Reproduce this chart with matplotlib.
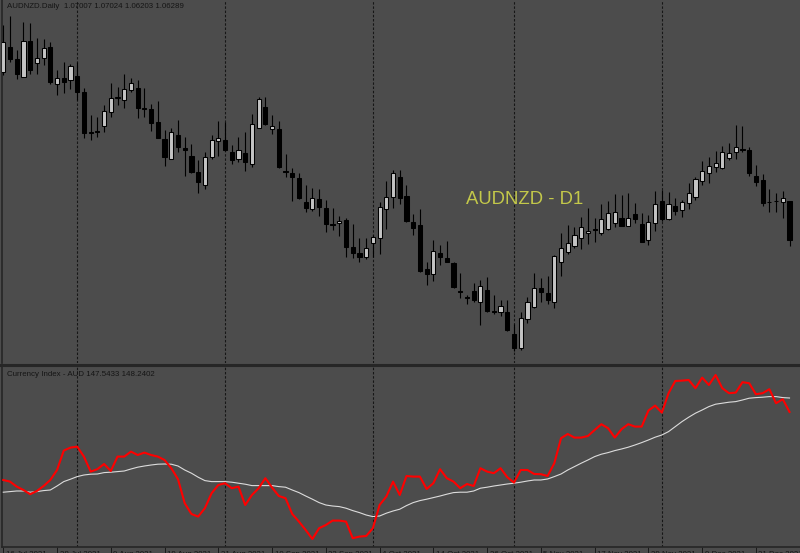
import matplotlib
matplotlib.use("Agg")
import matplotlib.pyplot as plt
from matplotlib.lines import Line2D
import numpy as np

# ---------------- data ----------------
opens = [1.0965, 1.1015, 1.0991, 1.0955, 1.1027, 1.0983, 1.0993, 1.1015, 1.0941, 1.0953,
         1.0949, 1.0957, 1.0925, 1.0845, 1.0847, 1.0857, 1.0885, 1.0913, 1.0909, 1.0929,
         1.0933, 1.0893, 1.0891, 1.0865, 1.0831, 1.0791, 1.0839, 1.0813, 1.0797, 1.0765,
         1.0739, 1.0795, 1.0827, 1.0829, 1.0805, 1.0791, 1.0803, 1.0781, 1.0853, 1.0895,
         1.0851, 1.0851, 1.0767, 1.0763, 1.0753, 1.0705, 1.0691, 1.0711, 1.0693, 1.0661,
         1.0663, 1.0669, 1.0615, 1.0603, 1.0595, 1.0623, 1.0633, 1.0691, 1.0715, 1.0755,
         1.0717, 1.0665, 1.0659, 1.0571, 1.0561, 1.0603, 1.0593, 1.0583, 1.0527, 1.0515,
         1.0527, 1.0505, 1.0529, 1.0487, 1.0485, 1.0485, 1.0441, 1.0413, 1.0471, 1.0495,
         1.0533, 1.0523, 1.0505, 1.0585, 1.0605, 1.0617, 1.0633, 1.0643, 1.0651, 1.0643,
         1.0651, 1.0663, 1.0673, 1.0657, 1.0681, 1.0661, 1.0629, 1.0663, 1.0707, 1.0671,
         1.0697, 1.0689, 1.0703, 1.0715, 1.0747, 1.0763, 1.0775, 1.0773, 1.0793, 1.0805,
         1.0811, 1.0809, 1.0757, 1.0749, 1.0705, 1.0707, 1.0705, 1.0707]
highs = [1.1059, 1.1077, 1.1009, 1.1065, 1.1063, 1.1033, 1.1031, 1.1025, 1.0969, 1.0985,
         1.0981, 1.0985, 1.0933, 1.0879, 1.0875, 1.0899, 1.0943, 1.0935, 1.0961, 1.0953,
         1.0949, 1.0933, 1.0901, 1.0907, 1.0849, 1.0853, 1.0869, 1.0835, 1.0821, 1.0789,
         1.0805, 1.0839, 1.0867, 1.0865, 1.0819, 1.0835, 1.0845, 1.0881, 1.0915, 1.0915,
         1.0879, 1.0867, 1.0801, 1.0773, 1.0763, 1.0739, 1.0733, 1.0731, 1.0709, 1.0693,
         1.0677, 1.0673, 1.0661, 1.0633, 1.0633, 1.0639, 1.0705, 1.0747, 1.0769, 1.0769,
         1.0739, 1.0681, 1.0691, 1.0585, 1.0629, 1.0619, 1.0627, 1.0585, 1.0563, 1.0519,
         1.0543, 1.0549, 1.0555, 1.0519, 1.0509, 1.0509, 1.0461, 1.0485, 1.0515, 1.0563,
         1.0553, 1.0557, 1.0599, 1.0643, 1.0659, 1.0655, 1.0675, 1.0693, 1.0673, 1.0701,
         1.0707, 1.0721, 1.0719, 1.0723, 1.0703, 1.0683, 1.0679, 1.0727, 1.0729, 1.0725,
         1.0713, 1.0709, 1.0743, 1.0755, 1.0787, 1.0795, 1.0807, 1.0817, 1.0823, 1.0859,
         1.0857, 1.0815, 1.0779, 1.0761, 1.0731, 1.0723, 1.0727, 1.0707]
lows = [1.0959, 1.0985, 1.0951, 1.0955, 1.0961, 1.0961, 1.0979, 1.0941, 1.0919, 1.0923,
        1.0931, 1.0909, 1.0833, 1.0829, 1.0835, 1.0845, 1.0875, 1.0899, 1.0893, 1.0925,
        1.0873, 1.0875, 1.0847, 1.0833, 1.0777, 1.0791, 1.0805, 1.0757, 1.0763, 1.0723,
        1.0731, 1.0791, 1.0797, 1.0807, 1.0781, 1.0785, 1.0767, 1.0775, 1.0853, 1.0859,
        1.0841, 1.0773, 1.0755, 1.0707, 1.0711, 1.0685, 1.0687, 1.0677, 1.0645, 1.0649,
        1.0637, 1.0595, 1.0593, 1.0585, 1.0591, 1.0595, 1.0601, 1.0651, 1.0693, 1.0701,
        1.0665, 1.0639, 1.0565, 1.0539, 1.0547, 1.0579, 1.0585, 1.0533, 1.0513, 1.0501,
        1.0505, 1.0459, 1.0485, 1.0481, 1.0477, 1.0447, 1.0407, 1.0409, 1.0463, 1.0493,
        1.0505, 1.0501, 1.0493, 1.0557, 1.0601, 1.0613, 1.0611, 1.0621, 1.0625, 1.0639,
        1.0649, 1.0655, 1.0657, 1.0657, 1.0663, 1.0625, 1.0619, 1.0647, 1.0667, 1.0669,
        1.0679, 1.0675, 1.0691, 1.0709, 1.0739, 1.0743, 1.0765, 1.0771, 1.0789, 1.0791,
        1.0805, 1.0757, 1.0737, 1.0697, 1.0685, 1.0685, 1.0673, 1.0617]
closes = [1.1025, 1.0991, 1.0961, 1.1027, 1.0969, 1.0993, 1.1013, 1.0945, 1.0953, 1.0945,
          1.0977, 1.0925, 1.0843, 1.0843, 1.0845, 1.0887, 1.0913, 1.0915, 1.0931, 1.0943,
          1.0893, 1.0891, 1.0863, 1.0833, 1.0795, 1.0845, 1.0815, 1.0809, 1.0765, 1.0745,
          1.0795, 1.0829, 1.0833, 1.0809, 1.0789, 1.0809, 1.0785, 1.0861, 1.0911, 1.0861,
          1.0857, 1.0775, 1.0765, 1.0755, 1.0713, 1.0693, 1.0713, 1.0695, 1.0661, 1.0659,
          1.0667, 1.0615, 1.0603, 1.0595, 1.0613, 1.0635, 1.0695, 1.0715, 1.0763, 1.0713,
          1.0667, 1.0653, 1.0567, 1.0561, 1.0607, 1.0595, 1.0585, 1.0535, 1.0525, 1.0513,
          1.0509, 1.0537, 1.0487, 1.0485, 1.0497, 1.0449, 1.0413, 1.0473, 1.0505, 1.0533,
          1.0525, 1.0509, 1.0597, 1.0613, 1.0623, 1.0639, 1.0655, 1.0647, 1.0649, 1.0671,
          1.0683, 1.0685, 1.0657, 1.0673, 1.0671, 1.0625, 1.0665, 1.0701, 1.0671, 1.0701,
          1.0687, 1.0705, 1.0723, 1.0751, 1.0767, 1.0777, 1.0783, 1.0805, 1.0803, 1.0815,
          1.0809, 1.0763, 1.0745, 1.0703, 1.0705, 1.0707, 1.0713, 1.0629]

index_aud = [144.14, 144.06, 143.81, 143.64, 143.43, 143.59, 143.84, 144.14, 144.64, 145.61,
             145.76, 145.81, 145.31, 144.56, 144.68, 144.94, 144.59, 145.31, 145.31, 145.56,
             145.39, 145.51, 145.39, 145.31, 145.14, 144.73, 144.18, 142.98, 142.44, 142.31,
             142.73, 143.48, 143.89, 143.98, 143.73, 143.81, 142.89, 143.39, 143.73, 144.23,
             143.76, 143.34, 143.23, 142.44, 142.06, 141.64, 141.19, 141.73, 141.89, 142.11,
             142.11, 142.06, 141.23, 141.31, 141.34, 141.73, 142.89, 143.31, 144.06, 143.39,
             144.34, 144.31, 144.31, 143.69, 143.98, 144.68, 144.23, 144.06, 143.73, 143.94,
             143.84, 144.73, 144.56, 144.48, 144.73, 144.28, 144.01, 144.64, 144.64, 144.44,
             144.43, 144.34, 144.98, 146.23, 146.44, 146.26, 146.26, 146.34, 146.64, 146.93,
             146.73, 146.26, 146.68, 146.93, 146.81, 146.81, 147.61, 147.86, 147.51, 148.48,
             149.09, 149.11, 149.14, 148.73, 149.26, 148.89, 149.39, 148.73, 148.48, 148.51,
             149.03, 148.98, 148.43, 148.48, 148.68, 147.98, 148.18, 147.5433]
index_ma = [143.53, 143.56, 143.59, 143.59, 143.53, 143.56, 143.61, 143.64, 143.84, 144.06,
            144.18, 144.31, 144.39, 144.43, 144.44, 144.51, 144.53, 144.56, 144.59, 144.69,
            144.78, 144.84, 144.89, 144.93, 144.94, 144.93, 144.84, 144.64, 144.48, 144.28,
            144.11, 144.06, 144.06, 144.06, 144.03, 143.98, 143.93, 143.86, 143.86, 143.86,
            143.86, 143.81, 143.78, 143.64, 143.51, 143.34, 143.18, 143.01, 142.89, 142.84,
            142.81, 142.73, 142.61, 142.51, 142.39, 142.31, 142.34, 142.48, 142.59, 142.68,
            142.86, 143.01, 143.11, 143.18, 143.26, 143.34, 143.43, 143.51, 143.53, 143.53,
            143.59, 143.73, 143.78, 143.84, 143.89, 143.94, 143.98, 144.03, 144.09, 144.14,
            144.14, 144.19, 144.31, 144.44, 144.64, 144.81, 144.98, 145.14, 145.31, 145.43,
            145.51, 145.61, 145.69, 145.78, 145.89, 146.01, 146.14, 146.28, 146.39, 146.56,
            146.81, 147.06, 147.28, 147.48, 147.64, 147.81, 147.93, 147.98, 148.03, 148.06,
            148.14, 148.23, 148.26, 148.28, 148.31, 148.31, 148.26, 148.2402]

month_starts = [11, 33, 55, 76, 98]
tick_bars = [0, 8, 16, 24, 32, 40, 48, 56, 64, 72, 80, 88, 96, 104, 112]
tick_labels = ["16 Jul 2021", "28 Jul 2021", "9 Aug 2021", "19 Aug 2021", "31 Aug 2021",
               "10 Sep 2021", "22 Sep 2021", "4 Oct 2021", "14 Oct 2021", "26 Oct 2021",
               "5 Nov 2021", "17 Nov 2021", "29 Nov 2021", "9 Dec 2021", "21 Dec 2021"]

title_main = "AUDNZD.Daily  1.07007 1.07024 1.06203 1.06289"
title_ind = "Currency Index - AUD 147.5433 148.2402"
symbol_label = "AUDNZD - D1"

# ---------------- styling ----------------
BG = "#4c4c4c"
DARK = "#262626"
W, H = 800, 553
FONT = "Liberation Sans"

fig = plt.figure(figsize=(W / 100, H / 100), dpi=100, facecolor=BG)

o = np.array(opens); h = np.array(highs); l = np.array(lows); c = np.array(closes)
x = np.arange(len(o))

# main price panel
ax1 = fig.add_axes([2 / W, 1 - 363 / H, 798 / W, 363 / H], facecolor=BG)
ax1.set_xlim(-0.19, 118.56)
ax1.set_ylim(1.0383, 1.1109)
for s in month_starts:
    ax1.axvline(s, color="#161616", lw=0.8, ls=(0, (2.2, 1.6)), zorder=1)
ax1.vlines(x, l, h, color="black", lw=0.8, zorder=2)
up = c >= o
bottoms = np.minimum(o, c)
heights = np.abs(c - o)
colors = np.where(up, "#c4c4c4", "#000000")
ax1.bar(x, heights, bottom=bottoms, width=0.62, color=colors,
        edgecolor="black", linewidth=0.75, zorder=3)
for side in ["top", "right", "bottom"]:
    ax1.spines[side].set_visible(False)
ax1.spines["left"].set_color(DARK)
ax1.spines["left"].set_linewidth(1.2)
ax1.set_xticks([]); ax1.set_yticks([])

# indicator panel
ax2 = fig.add_axes([2 / W, 1 - 547 / H, 798 / W, 181 / H], facecolor=BG)
ax2.set_xlim(-0.19, 118.56)
ax2.set_ylim(140.79, 149.84)
for s in month_starts:
    ax2.axvline(s, color="#161616", lw=0.8, ls=(0, (2.2, 1.6)), zorder=1)
ax2.plot(x, index_ma, color="#dcdcdc", lw=0.8, zorder=3)
ax2.plot(x, index_aud, color="#ff0000", lw=1.5, zorder=4)
for side in ["top", "right"]:
    ax2.spines[side].set_visible(False)
for side in ["left", "bottom"]:
    ax2.spines[side].set_color(DARK)
    ax2.spines[side].set_linewidth(1.2)
ax2.set_yticks([])
ax2.set_xticks(tick_bars)
ax2.set_xticklabels([])
ax2.tick_params(axis="x", direction="out", length=4, width=0.7, color="#1a1a1a")
for tb, tl in zip(tick_bars, tick_labels):
    ax2.annotate(tl, xy=(tb, 0), xycoords=("data", "axes fraction"),
                 xytext=(2.5, -9.5), textcoords="offset pixels",
                 ha="left", va="baseline", fontsize=5.7, family=FONT,
                 color="#151515", annotation_clip=False)

# panel separator
fig.add_artist(Line2D([0, 1], [1 - 364.5 / H] * 2, color=DARK, lw=2.2))

# texts
fig.text(7 / W, 1 - 8 / H, title_main, fontsize=5.7, family=FONT,
         color="#151515", ha="left", va="baseline")
fig.text(7 / W, 1 - 376 / H, title_ind, fontsize=5.7, family=FONT,
         color="#151515", ha="left", va="baseline")
fig.text(466 / W, 1 - 204.3 / H, symbol_label, fontsize=13.3, family=FONT,
         color="#c3c84a", ha="left", va="baseline")

fig.savefig("out.png", dpi=100, facecolor=BG)
